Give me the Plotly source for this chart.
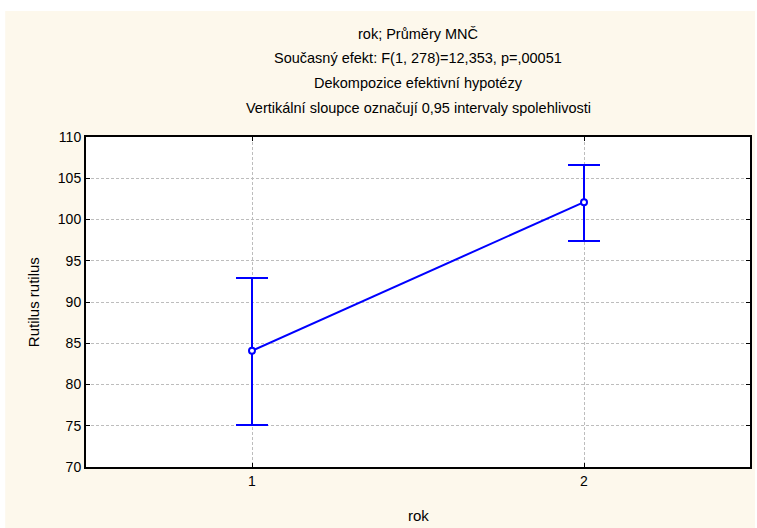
import plotly.graph_objects as go

categories = [1, 2]
means = [84.1, 102.1]
upper = [92.9, 106.6]
lower = [75.1, 97.4]

title_lines = [
    "rok; Průměry MNČ",
    "Současný efekt: F(1, 278)=12,353, p=,00051",
    "Dekompozice efektivní hypotézy",
    "Vertikální sloupce označují 0,95 intervaly spolehlivosti",
]
y_ticks = [70, 75, 80, 85, 90, 95, 100, 105, 110]

err_plus = [u - m for u, m in zip(upper, means)]
err_minus = [m - l for m, l in zip(means, lower)]

blue = "#0000FF"
font = "Liberation Sans, Arial, sans-serif"

fig = go.Figure()
fig.add_trace(go.Scatter(
    x=categories, y=means, mode="lines+markers",
    line=dict(color=blue, width=2),
    marker=dict(symbol="circle", size=6, color="white", line=dict(width=2, color=blue)),
    error_y=dict(type="data", symmetric=False, array=err_plus, arrayminus=err_minus,
                 color=blue, thickness=2, width=16),
    showlegend=False,
))

L, R, T, B = 86, 5, 137, 61
W, H = 757, 528
pw, ph = W - L - R, H - T - B

def px_x(x):
    return (x - L) / pw

def px_y(y):
    return (H - B - y) / ph

shapes = [
    dict(type="rect", xref="paper", yref="paper", x0=px_x(5), x1=px_x(757),
         y0=px_y(528), y1=px_y(11), fillcolor="#FDF8EC", line=dict(width=0), layer="below"),
    dict(type="rect", xref="paper", yref="paper", x0=0, x1=1, y0=0, y1=1,
         fillcolor="white", line=dict(width=0), layer="below"),
]

annotations = []
for txt, yc in zip(title_lines, [34, 58, 83, 108]):
    annotations.append(dict(text=txt, xref="paper", yref="paper", x=0.5, y=px_y(yc),
                            xanchor="center", yanchor="middle", showarrow=False,
                            font=dict(size=14.5, color="black", family=font)))
annotations.append(dict(text="rok", xref="paper", yref="paper", x=0.5, y=px_y(515),
                        xanchor="center", yanchor="middle", showarrow=False,
                        font=dict(size=15, color="black", family=font)))
annotations.append(dict(text="Rutilus rutilus", xref="paper", yref="paper", x=px_x(33), y=0.5,
                        xanchor="center", yanchor="middle", showarrow=False, textangle=-90,
                        font=dict(size=15, color="black", family=font)))

axis_common = dict(showline=True, linecolor="black", linewidth=2, mirror="ticks",
                   showgrid=True, gridcolor="#BDBDBD", griddash="3px,2px", gridwidth=1,
                   ticks="inside", ticklen=4, tickcolor="black", tickwidth=1,
                   zeroline=False, tickfont=dict(size=14, color="black", family=font))

fig.update_layout(
    width=W, height=H,
    margin=dict(l=L, r=R, t=T, b=B),
    paper_bgcolor="white", plot_bgcolor="white",
    shapes=shapes, annotations=annotations,
    xaxis=dict(range=[0.5, 2.5], tickvals=categories, ticktext=[str(c) for c in categories], **axis_common),
    yaxis=dict(range=[70, 110], tickvals=y_ticks, **axis_common),
)

fig.write_html("out.html")
